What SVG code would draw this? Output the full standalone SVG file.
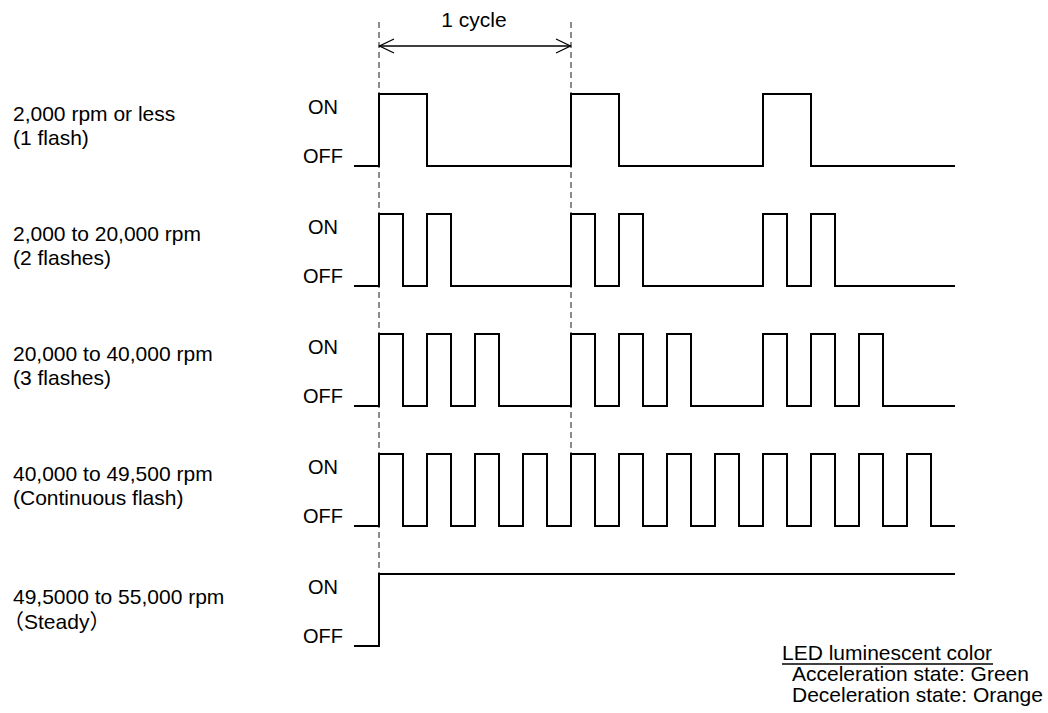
<svg xmlns="http://www.w3.org/2000/svg" width="1048" height="713" viewBox="0 0 1048 713">
<style>
text{font-family:"Liberation Sans","Noto Sans CJK JP",Arial,sans-serif;fill:#000}
.lbl{font-size:21px}
.lv{font-size:20px;text-anchor:middle}
.wave{fill:none;stroke:#000;stroke-width:2;stroke-linejoin:miter}
.dash{fill:none;stroke:#666;stroke-width:1.5;stroke-dasharray:6 4}
.arr{fill:none;stroke:#000;stroke-width:1.3}
</style>
<rect width="1048" height="713" fill="#fff"/>
<g id="connectors">
<line class="dash" x1="379" y1="22" x2="379" y2="574"/>
<line class="dash" x1="571" y1="22" x2="571" y2="454"/>
<line class="arr" x1="379" y1="46" x2="571" y2="46"/>
<polyline class="arr" points="394,39 379.5,46 394,53"/>
<polyline class="arr" points="556,39 570.5,46 556,53"/>
</g>
<g id="cycle-label"><text class="lbl" x="474" y="27" text-anchor="middle">1 cycle</text></g>
<g id="row1">
<text class="lbl" x="13" y="121">2,000 rpm or less</text>
<text class="lbl" x="13" y="145">(1 flash)</text>
<text class="lv" x="323" y="114">ON</text>
<text class="lv" x="323" y="163">OFF</text>
<path class="wave" d="M354,166 H379 V94 H427 V166 H571 V94 H619 V166 H763 V94 H811 V166 H955"/>
</g>
<g id="row2">
<text class="lbl" x="13" y="241">2,000 to 20,000 rpm</text>
<text class="lbl" x="13" y="265">(2 flashes)</text>
<text class="lv" x="323" y="234">ON</text>
<text class="lv" x="323" y="283">OFF</text>
<path class="wave" d="M354,286 H379 V214 H403 V286 H427 V214 H451 V286 H571 V214 H595 V286 H619 V214 H643 V286 H763 V214 H787 V286 H811 V214 H835 V286 H955"/>
</g>
<g id="row3">
<text class="lbl" x="13" y="361">20,000 to 40,000 rpm</text>
<text class="lbl" x="13" y="385">(3 flashes)</text>
<text class="lv" x="323" y="354">ON</text>
<text class="lv" x="323" y="403">OFF</text>
<path class="wave" d="M354,406 H379 V334 H403 V406 H427 V334 H451 V406 H475 V334 H499 V406 H571 V334 H595 V406 H619 V334 H643 V406 H667 V334 H691 V406 H763 V334 H787 V406 H811 V334 H835 V406 H859 V334 H883 V406 H955"/>
</g>
<g id="row4">
<text class="lbl" x="13" y="481">40,000 to 49,500 rpm</text>
<text class="lbl" x="13" y="505">(Continuous flash)</text>
<text class="lv" x="323" y="474">ON</text>
<text class="lv" x="323" y="523">OFF</text>
<path class="wave" d="M354,526 H379 V454 H403 V526 H427 V454 H451 V526 H475 V454 H499 V526 H523 V454 H547 V526 H571 V454 H595 V526 H619 V454 H643 V526 H667 V454 H691 V526 H715 V454 H739 V526 H763 V454 H787 V526 H811 V454 H835 V526 H859 V454 H883 V526 H907 V454 H931 V526 H955"/>
</g>
<g id="row5">
<text class="lbl" x="13" y="604">49,5000 to 55,000 rpm</text>
<text class="lbl" x="3" y="629">（Steady）</text>
<text class="lv" x="323" y="594">ON</text>
<text class="lv" x="323" y="643">OFF</text>
<path class="wave" d="M354,646 H379 V574 H955"/>
</g>
<g id="legend">
<text class="lbl" x="782" y="660">LED luminescent color</text>
<line x1="782" y1="664" x2="993" y2="664" stroke="#000" stroke-width="1.5"/>
<text class="lbl" x="792" y="681">Acceleration state: Green</text>
<text class="lbl" x="792" y="702">Deceleration state: Orange</text>
</g>
</svg>
